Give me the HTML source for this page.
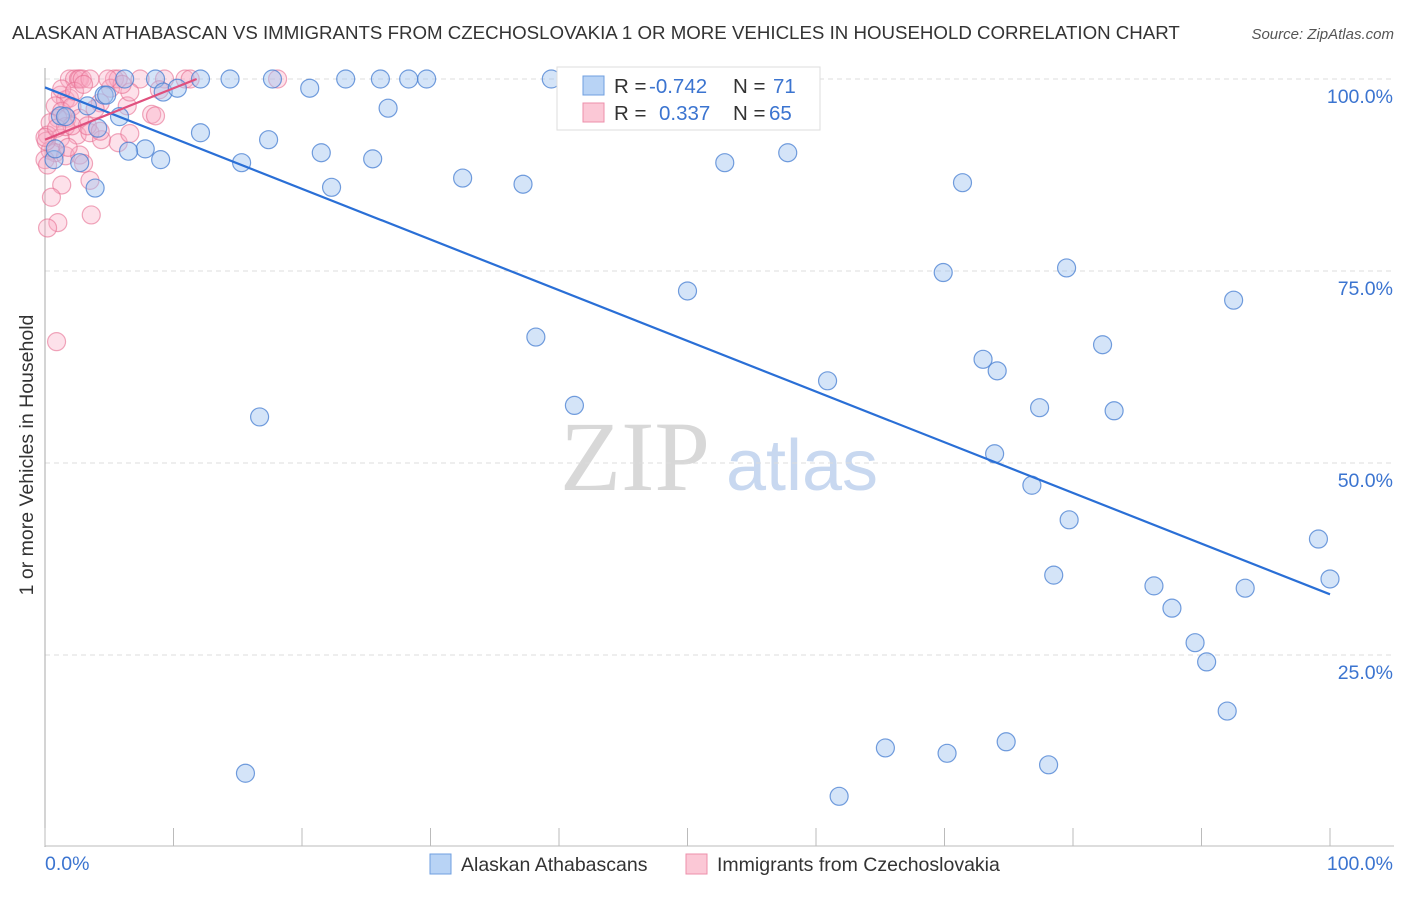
<!DOCTYPE html>
<html><head><meta charset="utf-8"><style>
body{margin:0;background:#fff;font-family:"Liberation Sans",sans-serif;}
svg text{font-family:"Liberation Sans",sans-serif;}
</style></head><body>
<svg id="chart" width="1406" height="892">
<text x="12" y="39" font-size="18.7" fill="#333">ALASKAN ATHABASCAN VS IMMIGRANTS FROM CZECHOSLOVAKIA 1 OR MORE VEHICLES IN HOUSEHOLD CORRELATION CHART</text>
<text x="1394" y="39" font-size="15" fill="#555" font-style="italic" text-anchor="end">Source: ZipAtlas.com</text>
<text x="33" y="455" font-size="19.5" fill="#333" text-anchor="middle" transform="rotate(-90 33 455)">1 or more Vehicles in Household</text>
<g><text x="635" y="490" font-size="100" fill="#d8d8d8" style="font-family:'Liberation Serif',serif" text-anchor="middle">ZIP</text><text x="802" y="490" font-size="72" fill="#c8d8f0" text-anchor="middle">atlas</text></g>
<g id="grid"></g><g id="pts"></g><g id="lines"></g>
<g>
<rect x="557" y="67" width="263" height="63" fill="#fff" stroke="#ddd"/>
<rect x="583" y="76" width="21" height="19" fill="#b8d3f5" stroke="#6f9fe0"/>
<rect x="583" y="103" width="21" height="19" fill="#fbc8d6" stroke="#ec8fab"/>
<text x="614" y="93" font-size="20.5" fill="#333">R = </text><text x="649" y="93" font-size="20.5" fill="#3b74d0">-0.742</text>
<text x="733" y="93" font-size="20.5" fill="#333">N = </text><text x="773" y="93" font-size="20.5" fill="#3b74d0">71</text>
<text x="614" y="120" font-size="20.5" fill="#333">R = </text><text x="659" y="120" font-size="20.5" fill="#3b74d0">0.337</text>
<text x="733" y="120" font-size="20.5" fill="#333">N = </text><text x="769" y="120" font-size="20.5" fill="#3b74d0">65</text>
</g>
<g>
<rect x="430" y="854" width="21" height="20" fill="#b8d3f5" stroke="#6f9fe0"/>
<text x="461" y="871" font-size="19.5" fill="#333">Alaskan Athabascans</text>
<rect x="686" y="854" width="21" height="20" fill="#fbc8d6" stroke="#ec8fab"/>
<text x="717" y="871" font-size="19.5" fill="#333">Immigrants from Czechoslovakia</text>
</g>
</svg>
<script>
const yTicks=[100,75,50,25];
const yTickLabels=["100.0%","75.0%","50.0%","25.0%"];
const blueX=[6.2,8.6,12.1,14.4,17.7,23.4,26.1,28.3,29.7,39.4,20.6,9.2,10.3,4.6,3.3,26.7,5.8,4.1,12.1,17.4,7.8,6.5,9.0,15.3,21.5,25.5,2.7,0.7,3.9,22.3,32.5,37.2,52.9,57.8,71.4,69.9,79.5,50.0,92.5,38.2,82.3,73.0,74.1,60.9,41.2,77.4,83.2,16.7,73.9,76.8,79.7,99.1,78.5,100,86.3,93.4,87.7,89.5,90.4,92.0,65.4,70.2,74.8,78.1,15.6,61.8,4.8,0.8,1.2,1.6];
const blueY=[100,100,100,100,100,100,100,100,100,100,98.8,98.3,98.8,97.9,96.5,96.2,95.1,93.6,93.0,92.1,90.9,90.6,89.5,89.1,90.4,89.6,89.1,89.5,85.8,85.9,87.1,86.3,89.1,90.4,86.5,74.8,75.4,72.4,71.2,66.4,65.4,63.5,62.0,60.7,57.5,57.2,56.8,56.0,51.2,47.1,42.6,40.1,35.4,34.9,34.0,33.7,31.1,26.6,24.1,17.7,12.9,12.2,13.7,10.7,9.6,6.6,97.9,90.9,95.2,95.1];
const pinkX=[1.9,2.3,2.6,2.7,2.9,3.5,5.4,5.7,7.4,9.3,10.9,11.3,18.1,1.2,1.6,1.9,0.8,1.3,2.1,1.7,1.0,2.7,0.4,4.3,6.4,8.3,8.6,0.2,1.2,2.5,3.5,1.6,0.4,0.8,1.6,4.4,5.7,0,0.2,2.7,3.5,1.3,0.5,3.6,1.0,0.2,0.9,5.1,6.6,3.3,2.1,3.9,0.1,1.3,2.3,3.0,6.0,4.9,8.9,1.8,3.0,0,0.9,4.3,6.6];
const pinkY=[100,100,100,100,100,100,100,100,100,100,100,100,100,97.9,97.3,97.5,96.5,95.8,96.4,94.9,94.9,94.9,94.3,96.9,96.5,95.4,95.2,92.7,92.3,92.7,93.0,93.8,90.7,90.4,90.0,92.1,91.7,89.5,88.8,90.1,86.8,86.2,84.6,82.3,81.3,80.6,65.8,98.8,98.3,93.9,93.9,96.1,91.9,98.7,98.4,99.3,99.3,100,98.6,91.1,89.0,92.4,93.6,93.2,92.9];
const blueTrend=[98.9,32.9];
const pinkTrend=[92.1,100];
const pinkTrendX=[0,11.8];
const X0=45,X1=1330,Y0=847,Y1=79;
const sx=v=>X0+(X1-X0)*v/100, sy=v=>Y0-(Y0-Y1)*v/100;
const NS="http://www.w3.org/2000/svg";
function mk(t,a,p){const e=document.createElementNS(NS,t);for(const k in a)e.setAttribute(k,a[k]);p.appendChild(e);return e;}
const g=document.getElementById('grid');
yTicks.forEach((t,i)=>{
 const l=mk('line',{x1:45,x2:1394,y1:sy(t),y2:sy(t),stroke:'#ddd','stroke-dasharray':'5,4'},g);
 
 
 const tx=mk('text',{x:1393,y:sy(t)+24,'font-size':19.5,fill:'#3b74d0','text-anchor':'end'},g);
 tx.textContent=yTickLabels[i];
 
 
});
const ax=mk('line',{x1:45,x2:45,y1:68,y2:847,stroke:'#aaa'},g);


const bx=mk('line',{x1:45,x2:1394,y1:846,y2:846,stroke:'#bbb'},g);


for(let i=0;i<=10;i++){const x=45+i*128.5;const t=mk('line',{x1:x,x2:x,y1:828,y2:846,stroke:'#bbb'},g);
 
 }
[["0.0%",45,'start'],["100.0%",1393,'end']].forEach(d=>{const t=mk('text',{x:d[1],y:870,'font-size':19.5,fill:'#3b74d0','text-anchor':d[2]},g);t.textContent=d[0];
 
 });
const p=document.getElementById('pts');
pinkX.forEach((v,i)=>{const c=mk('circle',{cx:sx(v),cy:sy(pinkY[i]),r:9,fill:'rgba(248,170,195,0.35)',stroke:'rgba(230,110,145,0.6)','stroke-width':1.2},p);
 
 });
blueX.forEach((v,i)=>{const c=mk('circle',{cx:sx(v),cy:sy(blueY[i]),r:9,fill:'rgba(160,195,240,0.45)',stroke:'rgba(70,125,210,0.75)','stroke-width':1.2},p);
 
 });
const L=document.getElementById('lines');
const b=mk('line',{x1:sx(0),y1:sy(blueTrend[0]),x2:sx(100),y2:sy(blueTrend[1]),stroke:'#2a6fd6','stroke-width':2.2},L);


const pk=mk('line',{x1:sx(pinkTrendX[0]),y1:sy(pinkTrend[0]),x2:sx(pinkTrendX[1]),y2:sy(pinkTrend[1]),stroke:'#e0507e','stroke-width':2.2},L);


</script>
</body></html>
